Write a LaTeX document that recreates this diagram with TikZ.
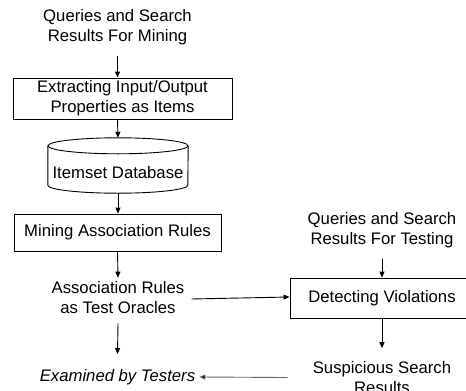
\documentclass[tikz,border=0pt]{standalone}
\usepackage{fontspec}
\setmainfont{Liberation Sans}
\usetikzlibrary{arrows.meta,calc}
\begin{document}
\begin{tikzpicture}[x=1pt,y=-1pt,
  every node/.style={inner sep=0pt, align=center, font=\fontsize{16.7}{20}\selectfont},
  box/.style={draw, line width=0.9pt},
  arr/.style={line width=0.9pt, -{Triangle[length=6pt,width=5pt]}},
  grayarr/.style={arr, draw=black!60, -{Triangle[length=6pt,width=5pt,fill=black]}}]
\useasboundingbox (0,0) rectangle (466,391);
% nodes
\node (q1) at (117.5,27) {Queries and Search\\Results For Mining};
\node[box, minimum width=219pt, minimum height=41pt] (ext) at (122.5,98.5) {Extracting Input/Output\\Properties as Items};
\node[minimum width=140pt, minimum height=55pt] (db) at (118,165.5) {};
\node (dbtext) at (118,173) {Itemset Database};
\node[box, minimum width=207pt, minimum height=37pt] (mine) at (117.5,232.5) {Mining Association Rules};
\node (assoc) at (118,298) {Association Rules\\as Test Oracles};
\node (exam) at (117.5,377) {\itshape Examined by Testers};
\node (q2) at (382,230) {Queries and Search\\Results For Testing};
\node[box, minimum width=176pt, minimum height=40pt] (det) at (378,298) {\hspace*{8pt}Detecting Violations};
\node (susp) at (382,377.5) {Suspicious Search\\Results};
% cylinder
\draw[line width=0.9pt] (db.north west) ++(0,8) -- ($(db.south west)+(0,-8)$)
  arc[start angle=180, end angle=0, x radius=70, y radius=8] -- ($(db.north east)+(0,8)$);
\draw[line width=0.9pt] ($(db.north)+(0,8)$) ellipse[x radius=70, y radius=8];
% connectors
\draw[arr] ([yshift=-11pt]q1.south) -- (q1.south |- ext.north);
\draw[arr] (q1.south |- ext.south) -- (db.north);
\draw[arr] (db.south) -- (db.south |- mine.north);
\draw[arr] (mine.south) -- ([yshift=4pt]assoc.north);
\draw[arr] ([yshift=-9pt]assoc.south) -- ([yshift=15pt]exam.north);
\draw[arr] ([xshift=7pt,yshift=-1pt]assoc.east) -- (det.west |- 0,297);
\draw[arr] ([yshift=-11pt]q2.south) -- (q2.south |- det.north);
\draw[arr] (q2.south |- det.south) -- ([yshift=13pt]susp.north);
\draw[grayarr] ([xshift=-25pt]susp.west) -- ([xshift=4pt]exam.east);
\end{tikzpicture}
\end{document}
